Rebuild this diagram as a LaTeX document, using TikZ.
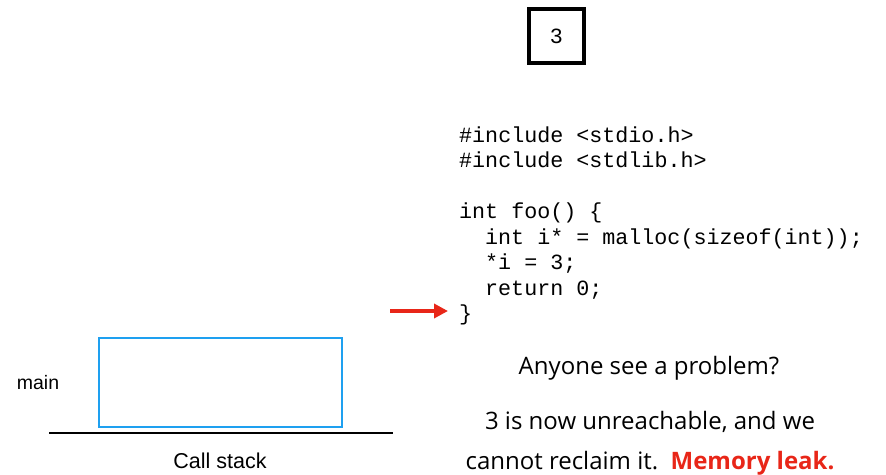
\documentclass[tikz,border=0pt]{standalone}
\usepackage{fontspec}
\setmainfont{Open Sans}
\setsansfont{Liberation Sans}
\setmonofont{Liberation Mono}
\usetikzlibrary{arrows.meta}

\definecolor{stackblue}{RGB}{30,160,240}
\definecolor{leakred}{RGB}{232,38,24}

\tikzset{
  codeline/.style={anchor=base west, inner sep=0pt, font=\ttfamily\fontsize{21.7}{25}\selectfont},
  heapcell/.style={draw, line width=4pt, minimum width=55pt, minimum height=54pt, inner sep=0pt, font=\ttfamily\fontsize{21.7}{25}\selectfont},
  frame/.style={draw=stackblue, line width=2.5pt, minimum width=243pt, minimum height=89pt, inner sep=0pt},
  label/.style={font=\sffamily\fontsize{19.5}{22}\selectfont},
  note/.style={align=center, font=\fontsize{24}{40}\selectfont}
}

\begin{document}
\begin{tikzpicture}[x=1pt, y=-1pt]
    \useasboundingbox (0,0) rectangle (886,474);

    \node[heapcell] (three) at (556.5,36) {3};

    \node[codeline] (inclio) at (459,142) {\#include <stdio.h>};
    \node[codeline] (incllib) at (459,167.5) {\#include <stdlib.h>};
    \node[codeline] (foo) at (459,218.5) {int foo() \{};
    \node[codeline] (alloc) at (485,244) {int i* = malloc(sizeof(int));};
    \node[codeline] (store) at (485,269.5) {*i = 3;};
    \node[codeline] (ret) at (485,295) {return 0;};
    \node[codeline] (close) at (459,320) {\}};

    \coordinate (pc) at (390,311);
    \draw[leakred, line width=4pt, -{Triangle[length=14pt, width=14pt]}, shorten >=11pt] (pc) -- (pc -| close.west);

    \node[frame] (mainframe) at (220.5,382.5) {};
    \node[label] (mainname) at (38,383) {main};
    \coordinate (stackl) at (49,433);
    \coordinate (stackr) at (393,433);
    \draw[line width=2pt] (stackl) -- (stackr);
    \node[font=\sffamily\fontsize{21.5}{24}\selectfont] (stackname) at (220,461) {Call stack};

    \node[note] (question) at (649,368) {Anyone see a problem?};
    \node[note] (answer) at (650,443) {3 is now unreachable, and we\\cannot reclaim it.~~\textcolor{leakred}{\textbf{Memory leak.}}};
\end{tikzpicture}
\end{document}
